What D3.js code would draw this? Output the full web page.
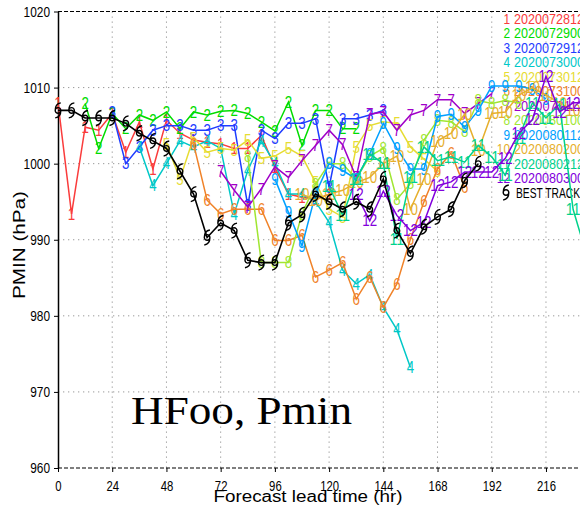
<!DOCTYPE html>
<html><head><meta charset="utf-8">
<script src="https://cdn.jsdelivr.net/npm/d3@7"></script>
<style>html,body{margin:0;padding:0;background:#fff;} svg{display:block;}</style>
</head><body><svg id="c" width="580" height="505"></svg>
<script>
// ---- data ----
const leadTicks = [0, 24, 48, 72, 96, 120, 144, 168, 192, 216];
const pminTicks = [960, 970, 980, 990, 1000, 1010, 1020];
const initLabels = ["2020072812","2020072900","2020072912","2020073000","2020073012","2020073100",
                    "2020073112","2020080100","2020080112","2020080200","2020080212","2020080300"];
const initOffsets = [0, 12, 24, 36, 48, 60, 72, 84, 96, 108, 120, 132]; // hours
const stepHours = 6;
const s1 = [1008, 993.4, 1004.8, 1004.4, 1006.6, 1001.5, 1005.5, 999.3, 1005.7, 1004, 1003.1, 1002.8, 1002.6, 1002, 1002, 1003.7, 999.5, 996, 995.6, 995.3, 996];
const s2 = [1007.9, 1002, 1006.6, 1004.6, 1006.4, 1005.7, 1006.8, 1004.6, 1006.8, 1006.4, 1006.9, 1007, 1006.6, 1005.5, 1004.3, 1008.1, 1002.4, 1007, 1007, 1004.6, 1004.6];
const s3 = [1006.8, 1000, 1002.2, 1004.4, 1005, 1005, 1004.4, 1004.4, 1005, 1005, 994.5, 1004.4, 1003.3, 1005.3, 1005.3, 1005.9, 996.9, 1005.9, 1005.9, 1006.4, 1007];
const s4 = [1002.2, 997.1, 1000, 1003, 1002.2, 1003, 1002, 993.4, 999.1, 1003, 1000, 996, 996, 995, 992.3, 986, 984.2, 985.4, 981.1, 978.2, 973.2];
const s5 = [1002.6, 998, 1003.4, 1001.5, 1002, 1001.8, 1003.1, 1000.7, 1001, 1002, 1001, 997.5, 994, 993, 1002.2, 1005, 1005.5, 1005.3, 1002.2, 1000.6, 999];
const s6 = [1002.6, 995.2, 993.4, 994, 994, 994, 989.9, 989.9, 990.6, 985.1, 986, 987, 982.2, 985.1, 981.1, 984.2, 990.1, 995, 999.3, 1001.4, 996.9];
const s7 = [999, 996.5, 994.3, 996.7, 999.6, 998.2, 1000.4, 1002.4, 1004.4, 1002.5, 998.2, 1006.5, 1006.8, 1004.4, 1006.4, 1007, 1008.4, 1008.4, 1006.6, 1007.9, 1009.2];
const s8 = [1001, 987, 987, 987, 993.4, 997.3, 1000, 1000, 998, 1001, 1002, 995.3, 997.4, 1003.1, 1005.7, 1005.5, 1004.2, 1008.3, 1007.9, 1008.3, 1008];
const s9 = [998, 993.6, 989.2, 996, 1000, 999.1, 998, 1001.3, 1005.3, 1002, 999.3, 999.3, 1006.2, 1006.5, 1004.8, 1007, 1010.2, 1010.2, 1010.2, 1009.8, 1008.5];
const s10 = [996, 995.2, 996, 996.5, 997.5, 998.2, 1000, 1001, 994, 998, 1003, 1004, 1006.5, 1001.7, 1006.6, 1006.8, 1009, 1010, 1009, 1008, 1007];
const s11 = [997, 993.2, 998, 1001.3, 1000, 990.1, 998.2, 1002.2, 1000.4, 1000.9, 1000.2, 1002.4, 1000.9, 998.5, 1003.4, 1008, 1006, 1007.8, 994, 988, 985];
const s12 = [996, 992.5, 996.4, 993.2, 991.2, 992.3, 997.1, 997.6, 998.9, 998.9, 998.9, 1000.7, 1004, 1005.8, 1011.5, 1006.8, 1008, 1008, 1008, 1008, 1008];
const bestTrack = [1007, 1007, 1006, 1006, 1006, 1005.3, 1004, 1003, 1002, 999, 996, 990.3, 992.2, 991.2, 987.3, 987, 987, 992.2, 993.3, 996, 995, 994, 995, 994, 998, 991.2, 988.2, 991.7, 993, 994, 997.8, 1000];
const seriesList = [s1, s2, s3, s4, s5, s6, s7, s8, s9, s10, s11, s12];
const colors = ["#fa3c3c","#00dc00","#1e3cff","#00c8c8","#e6dc32","#f08228",
                "#a000c8","#a0e632","#00a0ff","#e6af2d","#00d28c","#8200dc"];

// ---- chart ----
const svg = d3.select("#c");
const x = d3.scaleLinear().domain([0, 240]).range([58, 600.2]);
const y = d3.scaleLinear().domain([960, 1020]).range([468, 11.5]);
const FONT = "'Liberation Sans', Arial, sans-serif";

// grid
svg.append("g").selectAll("line").data(leadTicks.filter(d => d > 0)).join("line")
  .attr("x1", d => x(d)).attr("x2", d => x(d)).attr("y1", y(1020)).attr("y2", y(960))
  .attr("stroke", "#9a9a9a").attr("stroke-width", 1).attr("stroke-dasharray", "1.3,3.7");
svg.append("g").selectAll("line").data(pminTicks.filter(d => d > 960 && d < 1020)).join("line")
  .attr("x1", x(0)).attr("x2", 580).attr("y1", d => y(d)).attr("y2", d => y(d))
  .attr("stroke", "#9a9a9a").attr("stroke-width", 1).attr("stroke-dasharray", "1.3,3.7");

// dashed frame top/bottom
[1020, 960].forEach(v => {
  svg.append("line").attr("x1", x(0)).attr("x2", 580).attr("y1", y(v)).attr("y2", y(v))
    .attr("stroke", "#000").attr("stroke-width", 1.2).attr("stroke-dasharray", "4,2");
});

// left axis
const ya = svg.append("g").attr("transform", `translate(${x(0)},0)`)
  .call(d3.axisLeft(y).tickValues(pminTicks).tickFormat(d3.format("d"))
        .tickSize(4).tickSizeOuter(0).tickPadding(4));
ya.select(".domain").attr("stroke-width", 1.5);
ya.selectAll("text").attr("font-family", FONT).attr("font-size", 15).attr("fill", "#000")
  .attr("textLength", d => String(d).length * 6.6).attr("lengthAdjust", "spacingAndGlyphs");

// bottom axis
const xa = svg.append("g").attr("transform", `translate(0,${y(960)})`)
  .call(d3.axisBottom(x).tickValues(leadTicks).tickFormat(d3.format("d"))
        .tickSize(4).tickSizeOuter(0).tickPadding(8));
xa.select(".domain").remove();
xa.selectAll("text").attr("font-family", FONT).attr("font-size", 15).attr("fill", "#000")
  .attr("textLength", d => String(d).length * 6.3).attr("lengthAdjust", "spacingAndGlyphs");

// axis titles
svg.append("text").attr("x", 308).attr("y", 502).attr("text-anchor", "middle")
  .attr("font-family", FONT).attr("font-size", 16).attr("textLength", 189).attr("lengthAdjust", "spacingAndGlyphs")
  .text("Forecast lead time (hr)");
svg.append("text").attr("transform", "translate(25,245) rotate(-90)").attr("text-anchor", "middle")
  .attr("font-family", FONT).attr("font-size", 16).attr("textLength", 108).attr("lengthAdjust", "spacingAndGlyphs")
  .text("PMIN (hPa)");

// big title
svg.append("text").attr("x", 131).attr("y", 424)
  .attr("font-family", "'Liberation Serif', 'Times New Roman', serif").attr("font-size", 40)
  .attr("textLength", 221).attr("lengthAdjust", "spacingAndGlyphs").text("HFoo, Pmin");

// legend
const lg = svg.append("g");
initLabels.forEach((lab, i) => {
  const yy = 18.5 + i * 14.5;
  lg.append("text").attr("x", 510).attr("y", yy).attr("dy", "0.36em").attr("text-anchor", "end")
    .attr("font-family", FONT).attr("font-size", 14).attr("fill", colors[i])
    .attr("textLength", String(i + 1).length * 6.6).attr("lengthAdjust", "spacingAndGlyphs").text(i + 1);
  lg.append("text").attr("x", 514).attr("y", yy).attr("dy", "0.36em")
    .attr("font-family", FONT).attr("font-size", 14).attr("fill", colors[i])
    .attr("textLength", 70).attr("lengthAdjust", "spacingAndGlyphs").text(lab);
});
const tcPath = "M-2.8,0a2.8,2.8 0 1,0 5.6,0a2.8,2.8 0 1,0 -5.6,0 M-2.8,0 C-2.8,-4.5 -0.5,-7 2.8,-7.5 M2.8,0 C2.8,4.5 0.5,7 -2.8,7.5";
const legBTy = 18.5 + 12 * 14.5;
lg.append("path").attr("d", tcPath).attr("transform", `translate(506,${legBTy})`)
  .attr("fill", "none").attr("stroke", "#000").attr("stroke-width", 1.4);
lg.append("text").attr("x", 516).attr("y", legBTy).attr("dy", "0.36em")
  .attr("font-family", FONT).attr("font-size", 14).attr("fill", "#000")
  .attr("textLength", 64).attr("lengthAdjust", "spacingAndGlyphs").text("BEST TRACK");

// series
const line = d3.line().x(d => x(d.h)).y(d => y(d.p));
seriesList.forEach((vals, i) => {
  const pts = vals.map((p, k) => ({ h: initOffsets[i] + k * stepHours, p }));
  const g = svg.append("g");
  g.append("path").datum(pts).attr("d", line).attr("fill", "none")
    .attr("stroke", colors[i]).attr("stroke-width", 1.5);
  const lbl = String(i + 1);
  g.selectAll("text").data(pts).join("text")
    .attr("x", d => x(d.h)).attr("y", d => y(d.p)).attr("dy", "0.36em").attr("text-anchor", "middle")
    .attr("font-family", FONT).attr("font-size", 16).attr("fill", colors[i])
    .attr("textLength", lbl.length * 7.4).attr("lengthAdjust", "spacingAndGlyphs").text(lbl);
});

// best track
const bt = bestTrack.map((p, k) => ({ h: k * stepHours, p }));
const gb = svg.append("g");
gb.append("path").datum(bt).attr("d", line).attr("fill", "none").attr("stroke", "#000").attr("stroke-width", 1.6);
gb.selectAll("path.sym").data(bt).join("path").attr("class", "sym").attr("d", tcPath)
  .attr("transform", d => `translate(${x(d.h)},${y(d.p)})`)
  .attr("fill", "none").attr("stroke", "#000").attr("stroke-width", 1.4);
</script></body></html>
